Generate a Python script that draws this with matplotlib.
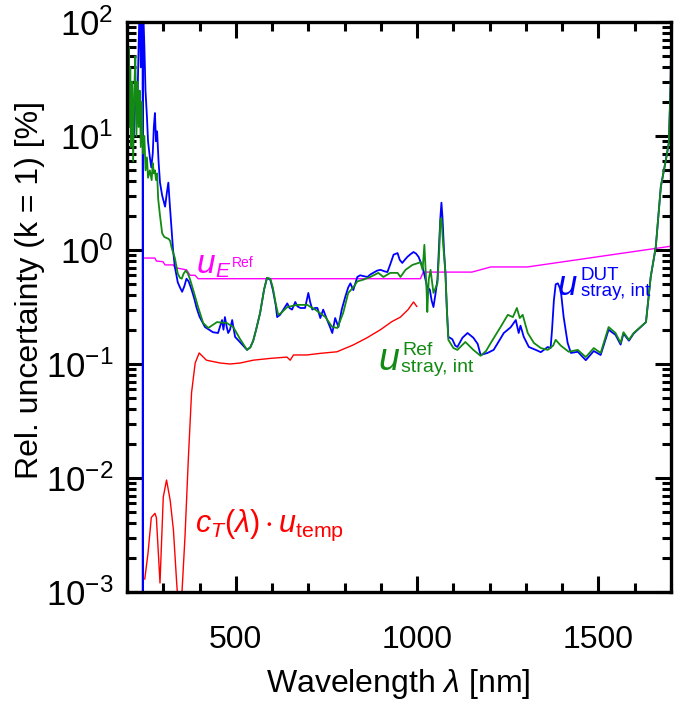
import matplotlib
matplotlib.use("Agg")
import matplotlib.pyplot as plt
from matplotlib.ticker import MultipleLocator, LogLocator, NullFormatter

plt.rcParams['font.family'] = ['Liberation Sans', 'DejaVu Sans']
plt.rcParams['mathtext.fontset'] = 'custom'
plt.rcParams['mathtext.rm'] = 'Liberation Sans'
plt.rcParams['mathtext.it'] = 'Liberation Sans:italic'
plt.rcParams['mathtext.bf'] = 'Liberation Sans:bold'
plt.rcParams['mathtext.default'] = 'regular'

# ---- data ----
wl_dut = [210, 215, 219, 224, 228, 232, 235, 238, 241, 243, 243.5, 244, 248, 251, 255, 258, 263, 267, 271, 274,
          277, 280, 283, 287, 291, 297, 305, 310, 314, 318, 323, 327, 332, 340, 346, 352, 358, 364, 370, 378,
          386, 392, 400, 415, 437, 451, 462, 466, 470, 475, 479, 484, 490, 498, 512, 531, 540, 548, 556, 567,
          578, 586, 595, 602, 610, 614, 622, 631, 642, 648, 655, 664, 670, 678, 691, 700, 705, 711, 718, 725,
          733, 741, 752, 760, 766, 774, 783, 792, 802, 810, 816, 824, 835, 843, 852, 863, 871, 879, 890, 899,
          910, 918, 926, 935, 946, 952, 959, 966, 973, 982, 990, 997, 1004, 1010, 1015, 1023, 1028, 1035, 1040, 1045,
          1050, 1056, 1061, 1064, 1067, 1070, 1074, 1078, 1082, 1086, 1097, 1105, 1111, 1125, 1139, 1155, 1167, 1175, 1194, 1211,
          1239, 1258, 1272, 1280, 1285, 1294, 1308, 1327, 1341, 1360, 1368, 1372, 1377, 1382, 1388, 1396, 1404, 1415, 1424, 1443,
          1465, 1487, 1506, 1528, 1547, 1561, 1569, 1584, 1597, 1631, 1644, 1658, 1672, 1686, 1694, 1699, 1701]
u_dut = [12, 16, 10, 25, 15, 60, 150, 40, 150, 80, 1e-4, 150, 60, 25, 14.7, 9, 6.5, 5.3, 7, 12,
         15.9, 9, 11, 6, 3.9, 3.0, 2.4, 3.2, 3.9, 2.5, 1.5, 1.0, 0.71, 0.52, 0.47, 0.43, 0.48, 0.56, 0.53, 0.45,
         0.37, 0.31, 0.26, 0.211, 0.19, 0.187, 0.243, 0.2, 0.258, 0.211, 0.187, 0.2, 0.243, 0.173, 0.155, 0.133, 0.14, 0.16, 0.2, 0.28,
         0.45, 0.57, 0.55, 0.45, 0.33, 0.258, 0.27, 0.30, 0.34, 0.31, 0.30, 0.35, 0.32, 0.31, 0.31, 0.42, 0.35, 0.30, 0.31, 0.31,
         0.253, 0.30, 0.243, 0.21, 0.187, 0.253, 0.211, 0.30, 0.39, 0.47, 0.51, 0.445, 0.58, 0.60, 0.59, 0.58, 0.61, 0.63, 0.66, 0.67,
         0.65, 0.64, 0.75, 0.91, 0.94, 0.82, 0.77, 0.82, 0.87, 0.92, 0.96, 0.93, 0.87, 0.78, 0.71, 0.55, 0.47, 0.45, 0.36, 0.316,
         0.40, 0.55, 1.2, 1.9, 2.6, 1.9, 1.0, 0.63, 0.30, 0.173, 0.165, 0.145, 0.141, 0.17, 0.187, 0.17, 0.15, 0.12, 0.125, 0.133,
         0.187, 0.21, 0.243, 0.187, 0.217, 0.173, 0.141, 0.133, 0.127, 0.141, 0.138, 0.2, 0.36, 0.50, 0.51, 0.445, 0.258, 0.153, 0.125, 0.128,
         0.108, 0.13, 0.12, 0.2, 0.18, 0.148, 0.185, 0.16, 0.185, 0.233, 0.58, 1.06, 3.6, 6.2, 8.7, 29, 110]

wl_ref = [200, 201, 203, 205, 207, 209, 211, 214, 217, 220, 223, 226, 229, 232, 235, 238, 241, 244, 248, 251,
          255, 258, 263, 268, 271, 274, 277, 280, 283, 286, 291, 297, 303, 310, 315, 319, 323, 327, 332, 340,
          346, 351, 356, 362, 368, 374, 384, 396, 410, 424, 448, 475, 493, 512, 531, 540, 548, 556, 567, 578,
          586, 595, 602, 610, 617, 625, 642, 669, 697, 719, 747, 766, 780, 796, 810, 824, 835, 852, 871, 893,
          907, 926, 946, 954, 968, 987, 1004, 1009, 1015, 1020, 1026, 1028, 1032, 1037, 1045, 1056, 1061, 1064, 1067, 1072,
          1078, 1082, 1086, 1100, 1111, 1133, 1155, 1175, 1190, 1203, 1230, 1250, 1264, 1275, 1283, 1291, 1305, 1322, 1341, 1360,
          1375, 1382, 1396, 1418, 1443, 1465, 1487, 1506, 1528, 1547, 1561, 1569, 1584, 1597, 1631, 1644, 1658, 1672, 1686, 1694,
          1699, 1701, 1701.5]
u_ref = [1e-4, 100, 20, 60, 12, 40, 8, 30, 6, 25, 50, 10, 30, 12, 25, 8, 20, 7, 10, 5,
         6.5, 4.3, 5.0, 4.1, 5.8, 4.7, 5.0, 4.1, 4.7, 2.8, 2.0, 1.4, 1.3, 1.27, 1.25, 1.2, 1.05, 0.95, 0.85, 0.62,
         0.57, 0.56, 0.62, 0.66, 0.62, 0.55, 0.43, 0.316, 0.229, 0.207, 0.233, 0.229, 0.211, 0.165, 0.133, 0.14, 0.16, 0.2, 0.28, 0.45,
         0.57, 0.56, 0.47, 0.34, 0.27, 0.28, 0.316, 0.33, 0.33, 0.30, 0.258, 0.211, 0.207, 0.28, 0.42, 0.47, 0.53, 0.55, 0.58, 0.63,
         0.58, 0.63, 0.63, 0.58, 0.67, 0.74, 0.77, 0.785, 0.67, 1.11, 0.445, 0.286, 0.55, 0.67, 0.42, 0.51, 1.0, 1.83, 1.9, 1.1,
         0.63, 0.30, 0.163, 0.138, 0.133, 0.156, 0.133, 0.118, 0.13, 0.153, 0.211, 0.27, 0.258, 0.31, 0.253, 0.27, 0.187, 0.153, 0.138, 0.133,
         0.145, 0.163, 0.145, 0.128, 0.133, 0.115, 0.138, 0.125, 0.211, 0.187, 0.153, 0.19, 0.163, 0.187, 0.233, 0.58, 1.06, 3.6, 6.2, 8.7,
         29, 110, 1e-4]

wl_e = [249, 277, 281, 299, 305, 328, 332, 364, 374, 388, 396, 1009, 1017, 1151, 1203, 1304, 1700]
u_e = [0.85, 0.85, 0.80, 0.79, 0.74, 0.74, 0.70, 0.67, 0.60, 0.60, 0.56, 0.56, 0.64, 0.64, 0.71, 0.71, 1.08]

wl_t = [249, 258, 267, 277, 281, 291, 300, 309, 319, 328, 337, 341, 350, 360, 369, 378, 388, 399, 419, 457,
        484, 512, 548, 595, 641, 650, 659, 696, 733, 779, 824, 862, 899, 930, 954, 975, 990, 999]
u_t = [0.0013, 0.0022, 0.0045, 0.0049, 0.0045, 0.0012, 0.0068, 0.0096, 0.0064, 0.0035, 0.0012, 0.0008, 0.0008, 0.0031,
       0.0144, 0.056, 0.102, 0.125, 0.108, 0.102, 0.100, 0.102, 0.108, 0.112, 0.115, 0.108, 0.12, 0.12, 0.124, 0.128,
       0.147, 0.17, 0.20, 0.235, 0.258, 0.30, 0.35, 0.32]

x_lim = [200, 1700]
y_lim = [1e-3, 1e2]
x_ticks = [500, 1000, 1500]

C_BLUE = '#0000ff'
C_GREEN = '#138a13'
C_MAG = '#ff00ff'
C_RED = '#ff0000'

fig = plt.figure(figsize=(6.81, 7.04), dpi=100)
ax = fig.add_axes([127/681, 112/704, 544/681, 570/704])

ax.plot(wl_e, u_e, color=C_MAG, lw=1.0)
ax.plot(wl_t, u_t, color=C_RED, lw=1.0)
ax.plot(wl_dut, u_dut, color=C_BLUE, lw=1.3)
ax.plot(wl_ref, u_ref, color=C_GREEN, lw=1.3)

ax.set_yscale('log')
ax.set_xlim(*x_lim)
ax.set_ylim(*y_lim)
ax.set_xticks(x_ticks)
ax.xaxis.set_minor_locator(MultipleLocator(100))
ax.yaxis.set_major_locator(LogLocator(base=10, numticks=10))
ax.yaxis.set_minor_locator(LogLocator(base=10, subs=range(2, 10), numticks=100))
ax.yaxis.set_minor_formatter(NullFormatter())

for s in ax.spines.values():
    s.set_linewidth(2.4)
ax.tick_params(which='both', direction='in', top=True, right=True, width=2.2)
ax.tick_params(which='major', length=11.5)
ax.tick_params(which='minor', length=6.5)
ax.tick_params(axis='x', which='major', pad=24, labelsize=23)
ax.tick_params(axis='y', which='major', pad=10, labelsize=25)

fig.text(398/681, 1 - 684/704, r'Wavelength $\mathit{\lambda}$ [nm]', ha='center', va='center', fontsize=23)
fig.text(30/681, 1 - 290/704, 'Rel. uncertainty (k = 1) [%]', ha='center', va='center', rotation=90, fontsize=23)


def composite(x, y, color, main, main_size, parts):
    ax.text(x, y, main, color=color, fontsize=main_size, ha='left', va='baseline',
            fontstyle='italic')
    for txt, dx, dy, size, style in parts:
        ax.annotate(txt, xy=(x, y), xycoords='data', xytext=(dx, dy), textcoords='offset points',
                    color=color, fontsize=size, ha='left', va='baseline', fontstyle=style)


# u_E^Ref label
composite(393, 0.628, C_MAG, 'u', 24,
          [('E', 13.5, -3.0, 15, 'italic'), ('Ref', 25.0, 4.0, 10, 'normal')])
# u_stray,int^Ref label
composite(893, 0.088, C_GREEN, 'u', 27,
          [('Ref', 17.0, 10.8, 14, 'normal'), ('stray, int', 16.0, -1.0, 14, 'normal')])
# u_stray,int^DUT label
composite(1388, 0.403, C_BLUE, 'u', 25,
          [('DUT', 16.5, 10.8, 13.5, 'normal'), ('stray, int', 16.5, -0.8, 13.5, 'normal')])
# c_T(lambda) . u_temp label
ax.text(388, 0.0034, r'$\mathit{c}_{\mathit{T}}(\mathit{\lambda})\cdot\mathit{u}_{\mathrm{temp}}$',
        color=C_RED, fontsize=22, ha='left', va='baseline')

fig.savefig('out.png', dpi=100)
